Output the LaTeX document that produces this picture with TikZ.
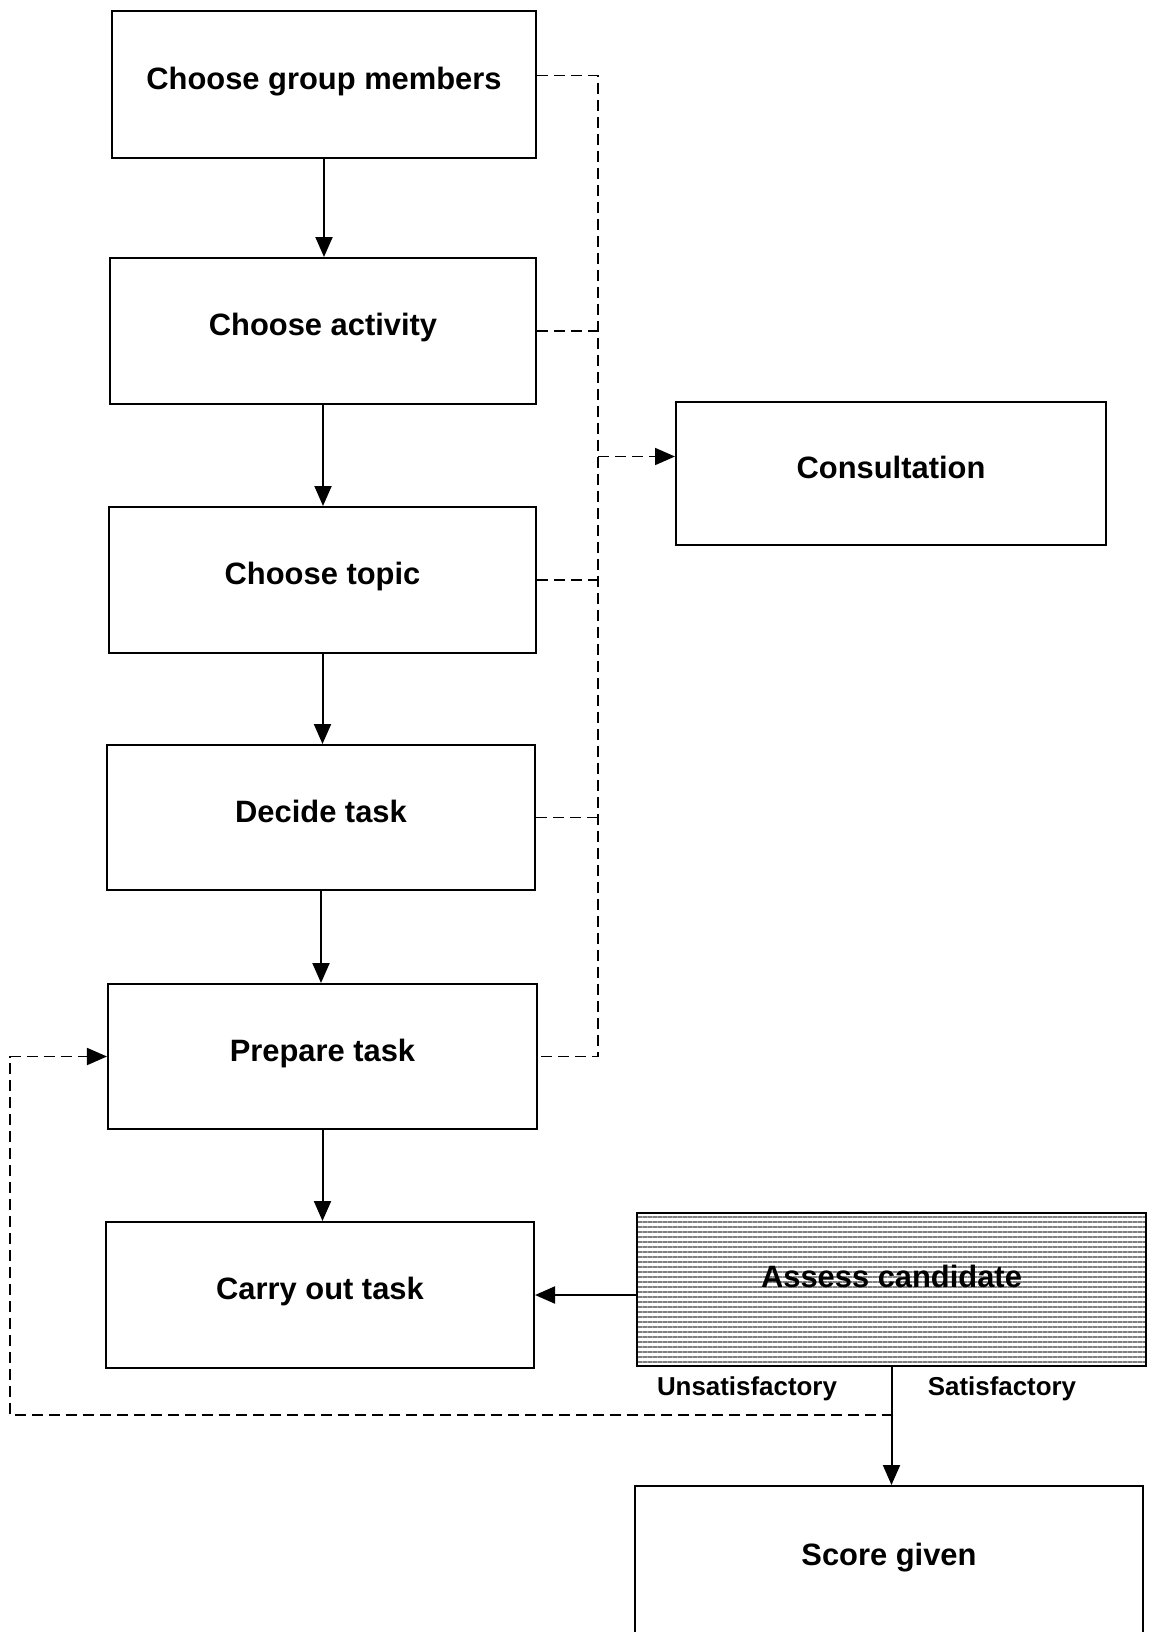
\documentclass[tikz,border=0pt]{standalone}
\usepackage{fontspec}
\setmainfont{Liberation Sans}
\usetikzlibrary{arrows.meta,patterns.meta}
\begin{document}
\begin{tikzpicture}[x=1bp,y=-1bp,
  box/.style={draw,line width=2bp,inner sep=0pt,text height=22bp,text depth=13bp,font=\fontsize{31}{36}\selectfont\bfseries},
  lbl/.style={inner sep=0pt,font=\fontsize{26}{30}\selectfont\bfseries},
  conn/.style={line width=2bp,-{Triangle[length=20bp,width=17bp]}},
  dashline/.style={line width=1.8bp,dash pattern=on 11bp off 6bp},
  dasharrow/.style={dashline,-{Triangle[length=20bp,width=17bp]}}]
\useasboundingbox (0,0) rectangle (1150,1632);
\clip (0,0) rectangle (1150,1632);
\fill[white] (0,0) rectangle (1150,1632);
\node[box,minimum width=424bp,minimum height=147bp] (b1) at (324,84.5) {Choose group members};
\node[box,minimum width=426bp,minimum height=146bp] (b2) at (323,331) {Choose activity};
\node[box,minimum width=427bp,minimum height=146bp] (b3) at (322.5,580) {Choose topic};
\node[box,minimum width=428bp,minimum height=145bp] (b4) at (321,817.5) {Decide task};
\node[box,minimum width=429bp,minimum height=145bp] (b5) at (322.5,1056.5) {Prepare task};
\node[box,minimum width=428bp,minimum height=146bp] (b6) at (320,1295) {Carry out task};
\node[box,minimum width=430bp,minimum height=143bp] (cons) at (891,473.5) {Consultation};
\node[box,minimum width=509bp,minimum height=153bp,pattern={Lines[angle=0,distance=5bp,line width=1.3bp]},pattern color=black!50] (assess) at (891.5,1289.5) {};
\node[inner sep=0pt,font=\fontsize{31}{36}\selectfont\bfseries] (assesst) at (891.5,1276) {Assess candidate};
\node[box,minimum width=508bp,minimum height=150bp] (score) at (889,1561) {Score given};
\node[lbl] (unsat) at (747,1389) {Unsatisfactory};
\node[lbl] (sat) at (1002,1389) {Satisfactory};
% solid downward arrows
\draw[conn] (b1.south) -- (b1.south |- b2.north);
\draw[conn] (b2.south) -- (b2.south |- b3.north);
\draw[conn] (b3.south) -- (b3.south |- b4.north);
\draw[conn] (b4.south) -- (b4.south |- b5.north);
\draw[conn] (b5.south) -- (b5.south |- b6.north);
\draw[conn] (b6.east -| assess.west) -- (b6.east) ;
\draw[conn] (assess.south) -- (assess.south |- score.north);
% dashed bus to consultation
\coordinate (bus) at (598,0);
\coordinate (b1e) at ([yshift=9bp]b1.east);
\draw[dashline] (b1e) -- (b1e -| bus) |- (b5.east);
\draw[dashline] (b2.east) -- (b2.east -| bus);
\draw[dashline] (b3.east) -- (b3.east -| bus);
\draw[dashline] (b4.east) -- (b4.east -| bus);
\coordinate (cw) at ([yshift=17bp]cons.west);
\draw[dasharrow] (cw -| bus) -- (cw);
% unsatisfactory loop back
\coordinate (split) at (893,1415);
\coordinate (lc) at (10,1415);
\draw[dasharrow] (split) -- (lc) |- (b5.west);
\end{tikzpicture}
\end{document}
